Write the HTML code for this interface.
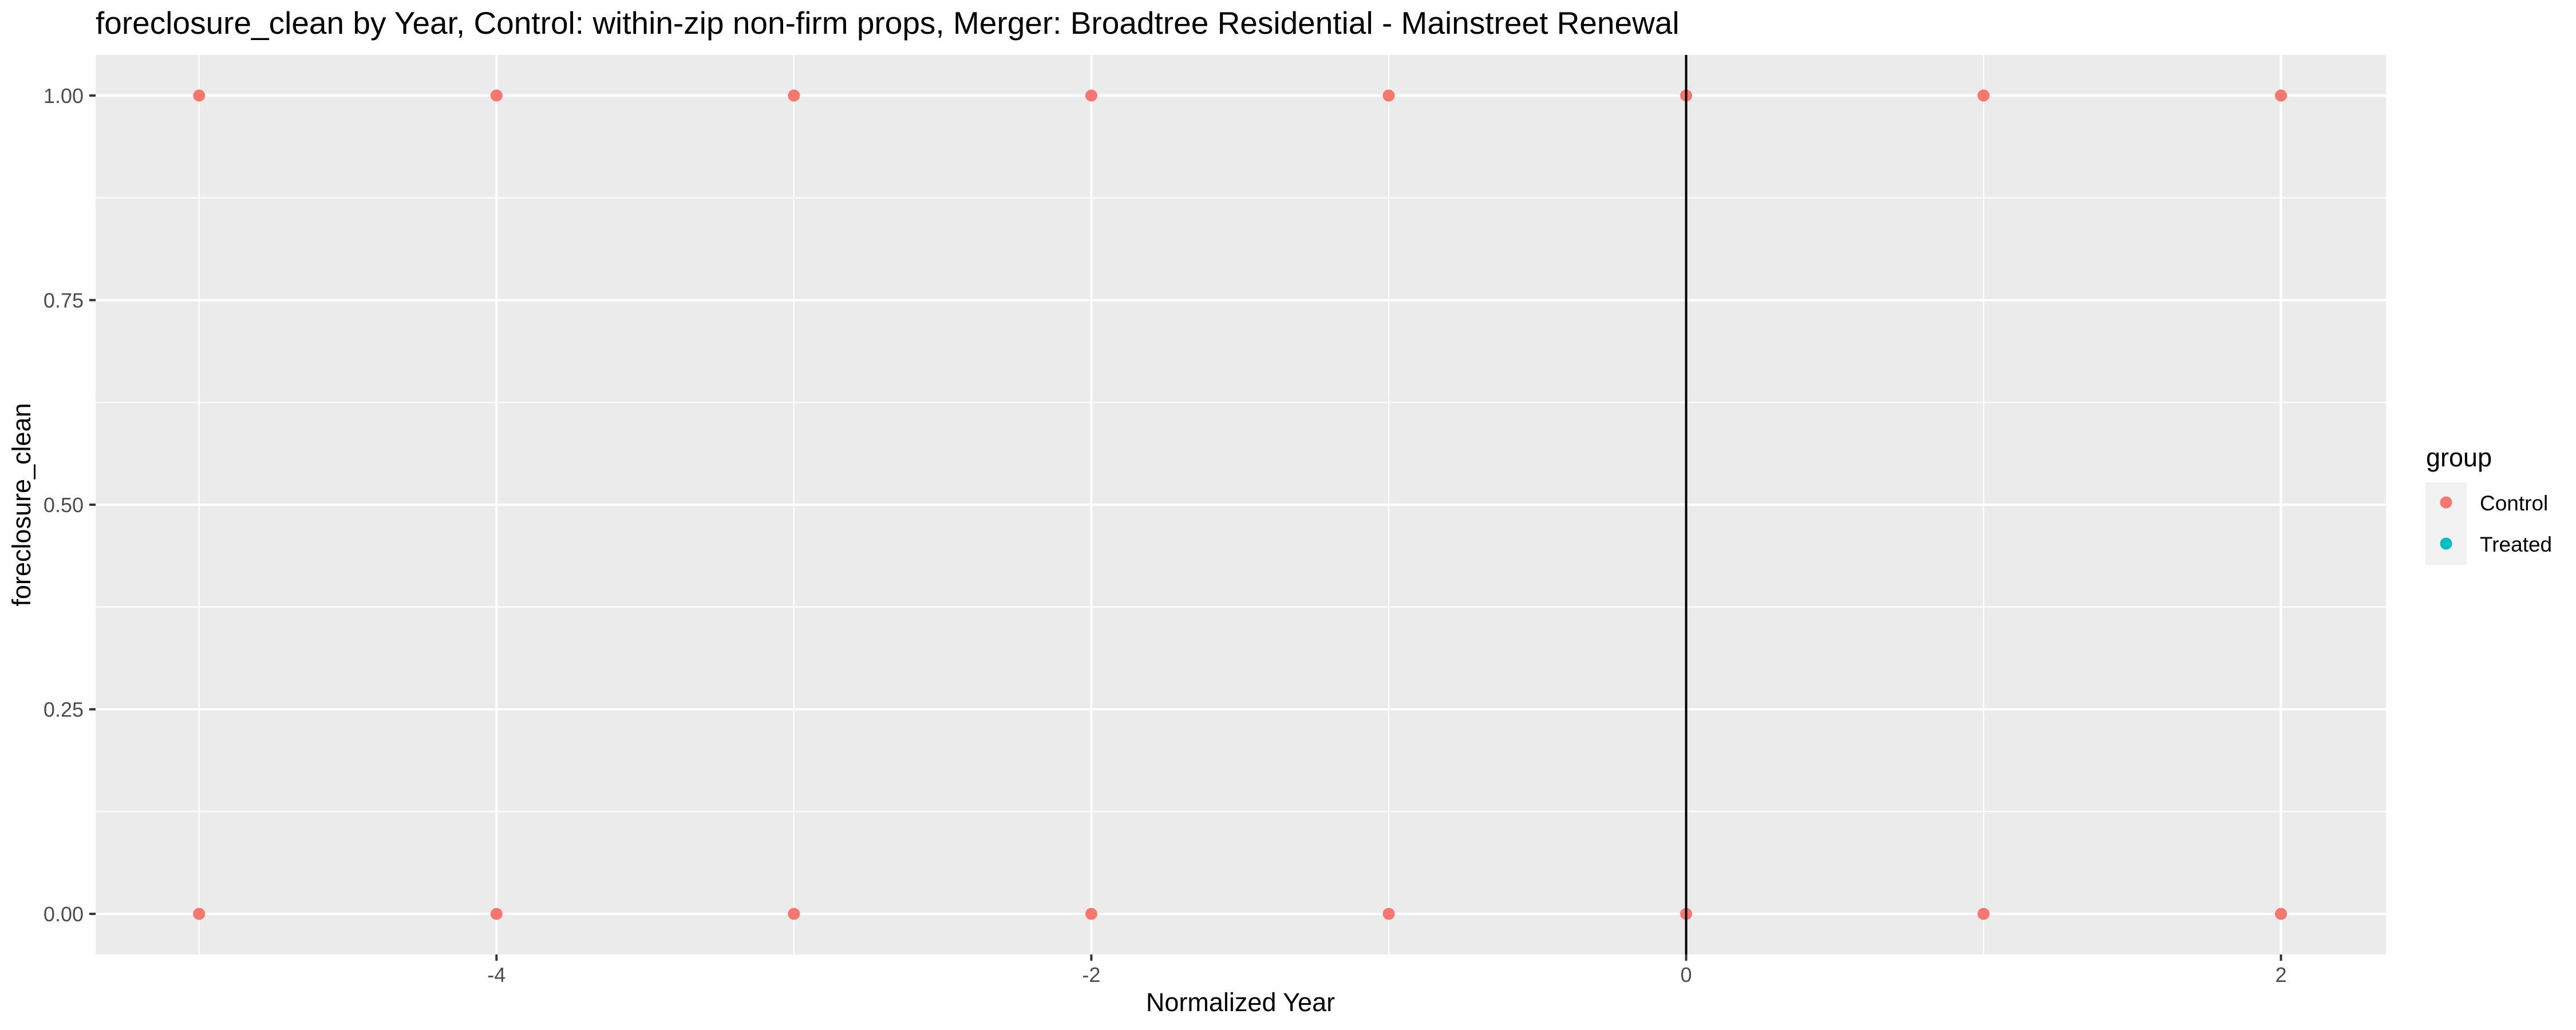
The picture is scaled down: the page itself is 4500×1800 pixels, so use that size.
<!DOCTYPE html>
<html><head><meta charset="utf-8"><style>
html,body{margin:0;padding:0;background:#fff;}
svg{display:block;font-family:"Liberation Sans",Arial,sans-serif;}
</style></head><body>
<svg id="chart" width="4500" height="1800" viewBox="0 0 4500 1800" xmlns="http://www.w3.org/2000/svg">
<rect width="4500" height="1800" fill="#fff"/>
<text x="167" y="59" font-size="55" fill="#000">foreclosure_clean by Year, Control: within-zip non-firm props, Merger: Broadtree Residential - Mainstreet Renewal</text>
<rect x="167" y="96" width="4001" height="1572" fill="#ebebeb"/>
<g id="grid"></g>
<g id="vline"></g>
<g id="points"></g>
<g id="axes"></g>
<text x="2167" y="1767" font-size="45" text-anchor="middle" fill="#000">Normalized Year</text>
<text transform="translate(53,882) rotate(-90)" font-size="45" text-anchor="middle" fill="#000">foreclosure_clean</text>
<g>
<text x="4238" y="815" font-size="45" fill="#000">group</text>
<rect x="4237" y="843" width="72" height="144" fill="#f2f2f2"/>
<circle cx="4273" cy="878" r="10.5" fill="#F8766D"/>
<text x="4332" y="892" font-size="37" fill="#000">Control</text>
<circle cx="4273" cy="950" r="10.5" fill="#00BFC4"/>
<text x="4332" y="964" font-size="37" fill="#000">Treated</text>
</g>
</svg>
<script>
const years = [-5,-4,-3,-2,-1,0,1,2,-5,-4,-3,-2,-1,0,1,2];
const controlValues = [1,1,1,1,1,1,1,1,0,0,0,0,0,0,0,0];
const xTicks = [-4,-2,0,2];
const xTickLabels = ["-4","-2","0","2"];
const xMinor = [-5,-3,-1,1];
const yTicks = [0,0.25,0.5,0.75,1];
const yTickLabels = ["0.00","0.25","0.50","0.75","1.00"];
const yMinor = [0.125,0.375,0.625,0.875];
const eventYear = [0];

const NS="http://www.w3.org/2000/svg";
const L=167,R=4168,T=96,B=1668;
const xmin=-5.348,xmax=2.353,ymin=-0.0496,ymax=1.0496;
function sx(v){return L+(v-xmin)/(xmax-xmin)*(R-L);}
function sy(v){return B-(v-ymin)/(ymax-ymin)*(B-T);}
function mk(tag,attrs,parent){const e=document.createElementNS(NS,tag);for(const k in attrs)e.setAttribute(k,attrs[k]);parent.appendChild(e);return e;}
const grid=document.getElementById('grid');
yMinor.forEach(v=>{const e=mk('line',{x1:L,x2:R,y1:sy(v),y2:sy(v),stroke:'#fff','stroke-width':2},grid);

});
xMinor.forEach(v=>{const e=mk('line',{x1:sx(v),x2:sx(v),y1:T,y2:B,stroke:'#fff','stroke-width':2},grid);

});
yTicks.forEach(v=>{const e=mk('line',{x1:L,x2:R,y1:sy(v),y2:sy(v),stroke:'#fff','stroke-width':4},grid);

});
xTicks.forEach(v=>{const e=mk('line',{x1:sx(v),x2:sx(v),y1:T,y2:B,stroke:'#fff','stroke-width':4},grid);

});
const pts=document.getElementById('points');
years.forEach((yr,i)=>{const c=mk('circle',{cx:sx(yr),cy:sy(controlValues[i]),r:10.5,fill:'#F8766D'},pts);

});
eventYear.forEach(v=>{const e=mk('line',{x1:sx(v),x2:sx(v),y1:T,y2:B,stroke:'#000','stroke-width':4},pts);

});
const ax=document.getElementById('axes');
yTicks.forEach((v,i)=>{const t=mk('line',{x1:156,x2:L,y1:sy(v),y2:sy(v),stroke:'#333','stroke-width':4},ax);


const tx=mk('text',{x:146,y:sy(v)+13,'font-size':36,'text-anchor':'end',fill:'#4d4d4d'},ax);tx.textContent=yTickLabels[i];

});
xTicks.forEach((v,i)=>{const t=mk('line',{x1:sx(v),x2:sx(v),y1:B,y2:B+11,stroke:'#333','stroke-width':4},ax);


const tx=mk('text',{x:sx(v),y:1716,'font-size':36,'text-anchor':'middle',fill:'#4d4d4d'},ax);tx.textContent=xTickLabels[i];

});
</script>
</body></html>
